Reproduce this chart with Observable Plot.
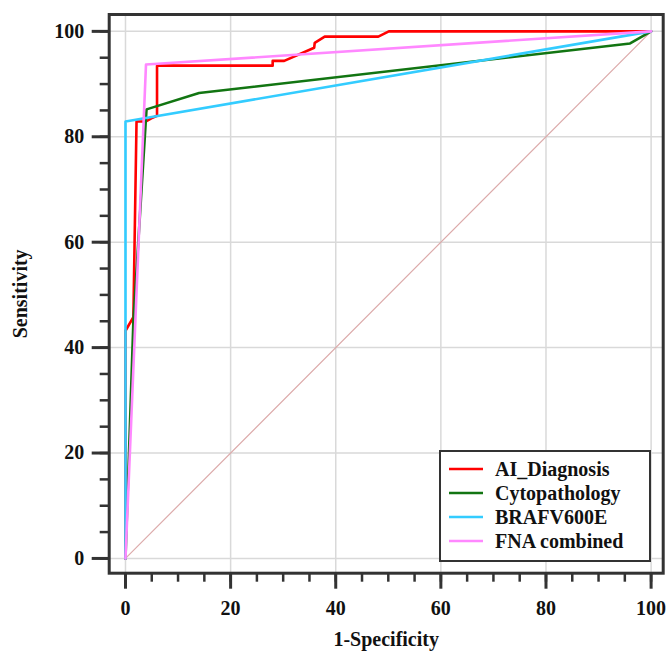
<!DOCTYPE html>
<html>
<head>
<meta charset="utf-8">
<script src="https://cdn.jsdelivr.net/npm/d3@7"></script>
<script src="https://cdn.jsdelivr.net/npm/@observablehq/plot@0.6"></script>
<style>
  html, body { margin: 0; padding: 0; background: #fff; }
  #wrap { position: relative; width: 667px; height: 651px; font-family: 'Liberation Serif', 'Times New Roman', serif; }
  #legend { position: absolute; left: 439px; top: 450px; width: 208px; height: 103px; border: 2px solid #333; background: #fff; padding-top: 5px; box-sizing: content-box; }
  .row { height: 24px; display: flex; align-items: center; font-weight: bold; font-size: 20px; color: #111; }
  .row svg { margin-left: 8px; margin-right: 12px; }
</style>
</head>
<body>
<div id="wrap"></div>
<script>
// Series data (1-Specificity, Sensitivity), in percent
const seriesNames = ["AI_Diagnosis", "Cytopathology", "BRAFV600E", "FNA combined"];
const seriesColors = ["#ff0000", "#127512", "#33ccff", "#ff88ff"];

const aiX   = [0, 0, 1.5, 2.1, 3.9, 4.9, 6.0, 6.0, 28.0, 28.0, 30.2, 35.9, 36.0, 37.9, 48.1, 50.1, 100];
const aiY   = [0, 43.2, 45.8, 82.9, 82.9, 83.5, 84.0, 93.5, 93.5, 94.4, 94.4, 96.9, 97.8, 99.0, 99.0, 100, 100];
const cytoX = [0, 1.5, 4.0, 14.0, 96.0, 100];
const cytoY = [0, 45.0, 85.2, 88.3, 97.7, 100];
const brafX = [0, 0, 100];
const brafY = [0, 82.9, 100];
const fnaX  = [0, 3.9, 100];
const fnaY  = [0, 93.7, 100];
const diagX = [0, 100];
const diagY = [0, 100];

const majorTicks = [0, 20, 40, 60, 80, 100];
const minorTicks = d3.range(0, 101, 5);

const toRows = (xs, ys, name) => xs.map((x, i) => ({x, y: ys[i], name}));
const series = [
  toRows(aiX, aiY, seriesNames[0]),
  toRows(cytoX, cytoY, seriesNames[1]),
  toRows(brafX, brafY, seriesNames[2]),
  toRows(fnaX, fnaY, seriesNames[3])
];
const diag = toRows(diagX, diagY, "ref");

const tickColor = "#333";
const chart = Plot.plot({
  width: 667,
  height: 651,
  marginLeft: 108.7,
  marginRight: 4.3,
  marginTop: 14,
  marginBottom: 78.3,
  style: {fontFamily: "'Liberation Serif', 'Times New Roman', serif", fontSize: "20px", fontWeight: "bold", color: "#111", background: "#fff"},
  x: {domain: [-3.1, 102.3]},
  y: {domain: [-2.8, 103.2]},
  marks: [
    Plot.gridX(majorTicks, {stroke: "#d9d9d9", strokeOpacity: 1, strokeWidth: 1.5}),
    Plot.gridY(majorTicks, {stroke: "#d9d9d9", strokeOpacity: 1, strokeWidth: 1.5}),
    Plot.line(diag, {x: "x", y: "y", stroke: "#dcaaaa", strokeWidth: 1.2}),
    ...series.map((d, i) => Plot.line(d, {x: "x", y: "y", stroke: seriesColors[i], strokeWidth: 2.6, curve: "linear"})),
    Plot.axisY(minorTicks, {anchor: "left", tickSize: 9, tickFormat: () => "", label: null, stroke: tickColor, strokeWidth: 2.5}),
    Plot.axisY(majorTicks, {anchor: "left", tickSize: 17, tickPadding: 8, fontSize: 20, label: "Sensitivity", labelAnchor: "center", labelOffset: 96, labelArrow: "none", stroke: tickColor, strokeWidth: 3}),
    Plot.axisX(minorTicks, {anchor: "bottom", tickSize: 9, tickFormat: () => "", label: null, stroke: tickColor, strokeWidth: 2.5}),
    Plot.axisX(majorTicks, {anchor: "bottom", tickSize: 16, tickPadding: 12, fontSize: 20, label: "1-Specificity", labelAnchor: "center", labelOffset: 73, labelArrow: "none", stroke: tickColor, strokeWidth: 3}),
    Plot.frame({stroke: tickColor, strokeWidth: 3})
  ]
});

const wrap = document.getElementById("wrap");
wrap.appendChild(chart);

const legend = document.createElement("div");
legend.id = "legend";
seriesNames.forEach((name, i) => {
  const row = document.createElement("div");
  row.className = "row";
  row.innerHTML = `<svg width="34" height="6"><line x1="0" x2="34" y1="3" y2="3" stroke="${seriesColors[i]}" stroke-width="2.6"/></svg><span>${name}</span>`;
  legend.appendChild(row);
});
wrap.appendChild(legend);
</script>
</body>
</html>
